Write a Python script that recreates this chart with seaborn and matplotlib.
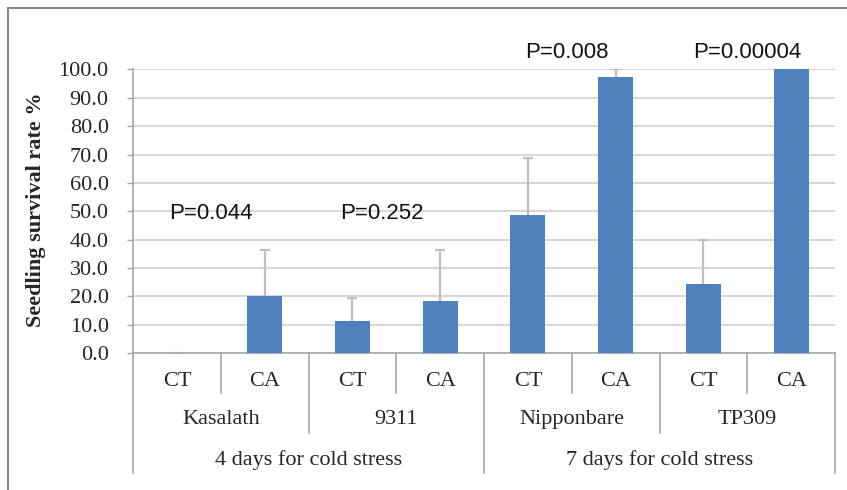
import numpy as np
import pandas as pd
import matplotlib
matplotlib.use("Agg")
import matplotlib.pyplot as plt
import matplotlib.transforms as mtransforms
from matplotlib.lines import Line2D
import seaborn as sns

# ---- data ----
cultivars = ["Kasalath", "9311", "Nipponbare", "TP309"]
treatments = ["CT", "CA"]
stress_groups = ["4 days for cold stress", "7 days for cold stress"]
survival = [0.0, 20.0, 11.2, 18.5, 48.6, 97.4, 24.5, 100.0]
errors = [0.0, 16.4, 8.3, 17.9, 20.2, 2.6, 15.2, 0.0]
p_values = ["P=0.044", "P=0.252", "P=0.008", "P=0.00004"]
p_label_y = [49.3, 49.3, 106.0, 106.0]
y_ticks = [0, 10, 20, 30, 40, 50, 60, 70, 80, 90, 100]

keys = [f"{c} {t}" for c in cultivars for t in treatments]
df = pd.DataFrame({"key": keys, "survival": survival, "err": errors})
df["upper"] = df["survival"] + df["err"]

sns.set_theme(style="white")
plt.rcParams["font.family"] = ["Liberation Serif", "DejaVu Serif"]

BAR = "#4F81BD"
GRID = "#D0D0D0"
AXC = "#A6A6A6"
ERRC = "#BFBFBF"
FS = 16

fig = plt.figure(figsize=(8.47, 4.90), dpi=100)
ax = fig.add_axes([133 / 847, 1 - 353 / 490, (835 - 133) / 847, (353 - 69.5) / 490])

sns.barplot(data=df, x="key", y="survival", order=keys, color=BAR,
            saturation=1, width=0.4, errorbar=None, ax=ax, zorder=3, linewidth=0)
xs = np.arange(len(keys))
# plus-only error bars with a cap at the top
ax.vlines(xs, df["survival"], df["upper"], colors=ERRC, linewidth=1.6, zorder=2)
ax.plot(xs, df["upper"], linestyle="none", marker="_", markersize=6.5,
        markeredgewidth=1.6, color=ERRC, zorder=2)

ax.set_xlim(-0.5, len(keys) - 0.5)
ax.set_ylim(0, 100)
ax.set_yticks(y_ticks)
ax.set_yticklabels([f"{v:.1f}" for v in y_ticks], fontsize=FS)
ax.yaxis.grid(True, color=GRID, linewidth=1.2, zorder=0)
ax.set_axisbelow(True)
ax.tick_params(axis="y", direction="out", length=4.5, width=1, color=AXC, pad=13,
               left=True)
ax.set_xticks([])
ax.set_xlabel("")
ax.set_ylabel("Seedling survival rate %", fontsize=FS, fontweight="bold")
ax.yaxis.set_label_coords(-0.124, 0.505)
for s in ["top", "right"]:
    ax.spines[s].set_visible(False)
for s in ["left", "bottom"]:
    ax.spines[s].set_color(AXC)
    ax.spines[s].set_linewidth(1.2)

# multi-level category axis
trans = mtransforms.blended_transform_factory(ax.transData, ax.transAxes)
r1, r2, r3 = -0.141, -0.282, -0.423
n = len(keys)
for i in range(n + 1):
    x = i - 0.5
    if i == 0 or i == n or i == n // 2:
        y1 = r3
    elif i % 2 == 0:
        y1 = r2
    else:
        y1 = r1
    ax.add_line(Line2D([x, x], [0, y1], transform=trans, color=AXC, lw=1.2, clip_on=False))
for i, k in enumerate(keys):
    ax.text(i, -0.101, treatments[i % 2], transform=trans, ha="center", va="center",
            fontsize=FS)
for j, c in enumerate(cultivars):
    ax.text(2 * j + 0.5, -0.236, c, transform=trans, ha="center", va="center", fontsize=FS)
for j, s in enumerate(stress_groups):
    ax.text(4 * j + 1.5, -0.377, s, transform=trans, ha="center", va="center", fontsize=FS)

# P-value labels
p_x_offset = [-0.11, -0.16, -0.06, 0.0]
for j, p in enumerate(p_values):
    ax.text(2 * j + 0.5 + p_x_offset[j], p_label_y[j], p, ha="center", va="center",
            fontsize=FS, family=["Liberation Sans", "DejaVu Sans"], clip_on=False,
            color="#111111")

# chart-area border (top and left visible)
fig.add_artist(Line2D([8 / 847, 1], [1 - 8 / 490, 1 - 8 / 490], transform=fig.transFigure,
                      color="#888888", lw=1.5))
fig.add_artist(Line2D([8 / 847, 8 / 847], [0, 1 - 8 / 490], transform=fig.transFigure,
                      color="#888888", lw=1.5))

fig.savefig("out.png", dpi=100)
